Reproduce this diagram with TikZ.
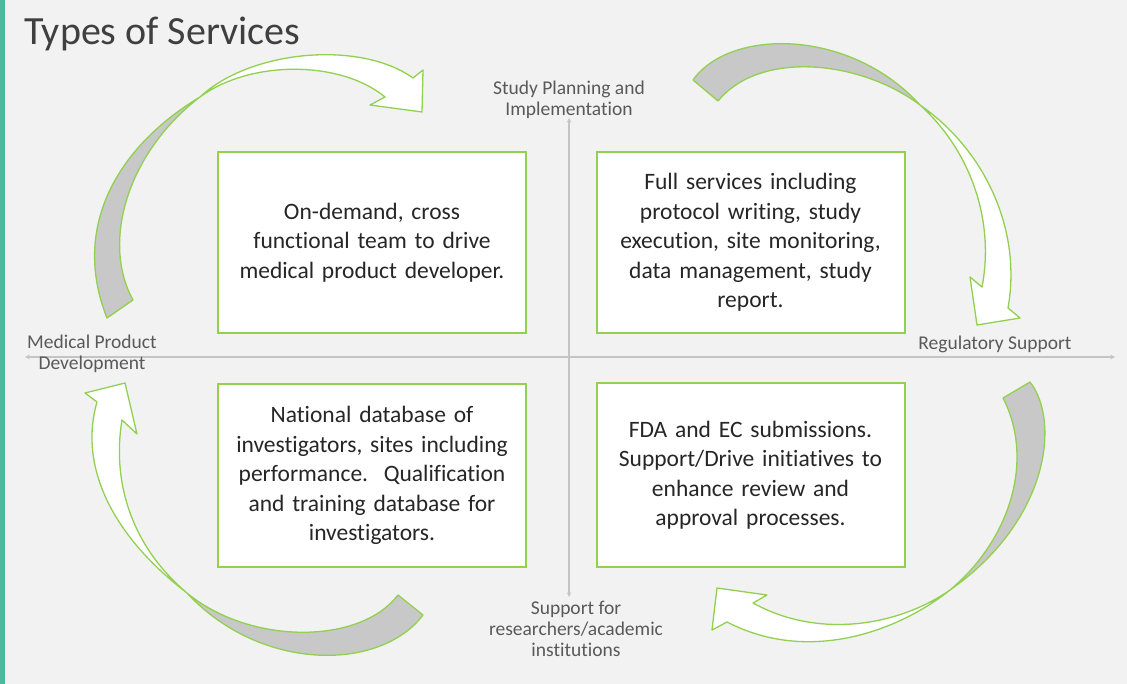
\documentclass[tikz,border=0pt]{standalone}
\usepackage{fontspec}
\setmainfont{Carlito}[Ligatures=NoCommon]
\usepackage{tikz}
\usetikzlibrary{calc,positioning,arrows}
\definecolor{bggray}{HTML}{F2F2F2}
\definecolor{stripeteal}{HTML}{4BBB9C}
\definecolor{leafgreen}{HTML}{92D050}
\definecolor{ribbongray}{HTML}{C8C8C8}
\definecolor{axisgray}{HTML}{C4C4C4}
\definecolor{labelgray}{HTML}{595959}
\definecolor{titlegray}{HTML}{3F3F3F}
\definecolor{inkgray}{HTML}{262626}

\begin{document}
\begin{tikzpicture}[x=1pt, y=-1pt,
		svcbox/.style={draw=leafgreen, line width=2pt, fill=white, minimum width=308pt, minimum height=181pt, text width=300pt, align=center, text=inkgray, font=\fontsize{23.5}{29.5}\selectfont},
		axlabel/.style={text=labelgray, align=center, inner sep=0pt, font=\fontsize{19.5}{21}\selectfont},
		ribbon/.style={draw=leafgreen, line width=1.3pt, line join=round},
		axis/.style={stealth-stealth, line width=1.1pt, axisgray}]
		\useasboundingbox (0,0) rectangle (1127,684);
		\fill[bggray] (0,0) rectangle (1127,684);
		\fill[stripeteal] (0,0) rectangle (5,684);
		\node[anchor=base west, inner sep=0pt, text=titlegray, font=\fontsize{40}{40}\selectfont] (title) at (24,45) {Types of Services};
		
		\coordinate (W) at (25,357);
		\coordinate (E) at (1115,357);
		\coordinate (N) at (569,118);
		\coordinate (S) at (569,597);
		\draw[axis] (W)--(E);
		\draw[axis] (S)--(N);
		
		\coordinate (X1) at (200,97);
		\coordinate (X2) at (920,105);
		\coordinate (X3) at (187,593);
		\coordinate (X4) at (950,590);
		\draw[ribbon, fill=ribbongray] (X1) .. controls (120,145) and (70,225) .. (107,318) -- (133,300) .. controls (100,240) and (130,150) .. (X1);
		\draw[ribbon, fill=white] (X1) .. controls (250,50) and (360,40) .. (413,78) -- (423,70) -- (422,112) -- (370,105) -- (385,97) .. controls (340,60) and (250,60) .. (X1);
		\draw[ribbon, fill=ribbongray] (X2) .. controls (850,28) and (730,28) .. (693,80) -- (718,101) .. controls (760,50) and (860,60) .. (X2);
		\draw[ribbon, fill=white] (X2) .. controls (985,150) and (1022,230) .. (1008,308) -- (1020,318) -- (977,325) -- (970,277) -- (982,287) .. controls (995,220) and (970,150) .. (X2);
		\draw[ribbon, fill=ribbongray] (X3) .. controls (250,645) and (360,645) .. (398,595) -- (423,615) .. controls (380,672) and (260,672) .. (X3);
		\draw[ribbon, fill=white] (X3) .. controls (105,530) and (80,460) .. (97,402) -- (85,393) -- (125,383) -- (137,434) -- (122,420) .. controls (112,480) and (130,545) .. (X3);
		\draw[ribbon, fill=ribbongray] (X4) .. controls (1050,520) and (1060,420) .. (1030,382) -- (1003,398) .. controls (1035,460) and (1010,540) .. (X4);
		\draw[ribbon, fill=white] (X4) .. controls (900,630) and (810,665) .. (727,622) -- (712,630) -- (717,588) -- (767,595) -- (753,603) .. controls (820,640) and (900,625) .. (X4);
		
		\node[svcbox] (demand) at (372,242.5) {On-demand, cross\\functional team to drive\\medical product developer.};
		\node[svcbox] (full) at (750.5,242.5) {Full services including\\protocol writing, study\\execution, site monitoring,\\data management, study\\report.};
		\node[svcbox, minimum height=183pt] (natdb) at (372,475.5) {National database of\\investigators, sites including\\performance.\ \ Qualification\\and training database for\\investigators.};
		\node[svcbox, minimum height=183pt] (fda) at (750.5,475) {FDA and EC submissions.\\Support/Drive initiatives to\\enhance review and\\approval processes.};
		
		\node[axlabel] (plan) at (569,99.5) {Study Planning and\\Implementation};
		\node[axlabel] (reg) at (995,344) {Regulatory Support};
		\node[axlabel] (med) at (92,353.5) {Medical Product\\Development};
		\node[axlabel] (supp) at (576,629) {Support for\\researchers/academic\\institutions};
	\end{tikzpicture}
\end{document}
